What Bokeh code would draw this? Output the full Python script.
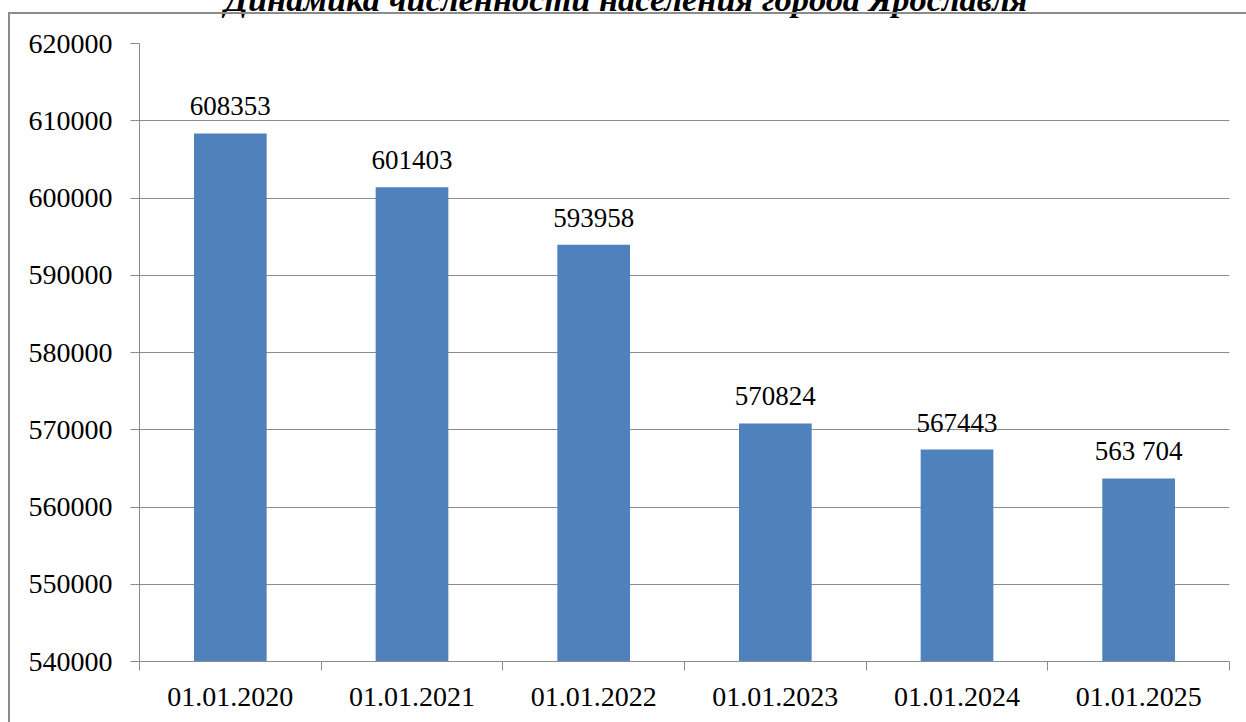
from bokeh.plotting import figure
from bokeh.models import (Range1d, FixedTicker, ColumnDataSource, LabelSet,
                          BasicTickFormatter, InlineStyleSheet)
from bokeh.embed import file_html
from bokeh.resources import INLINE
import numpy as np

# ---- data ----
dates = ["01.01.2020", "01.01.2021", "01.01.2022", "01.01.2023", "01.01.2024", "01.01.2025"]
population = [608353, 601403, 593958, 570824, 567443, 563704]
value_labels = ["608353", "601403", "593958", "570824", "567443", "563 704"]
y_ticks = [540000, 550000, 560000, 570000, 580000, 590000, 600000, 610000, 620000]
title_text = "Динамика численности населения города Ярославля"

FONT = "Liberation Serif, Times New Roman, serif"
BAR = "#4F81BD"
GRID = "#8c8c8c"

SHIFT = 50  # canvas is lifted above the window top so the title is cropped like in the source

n = len(dates)
xpos = np.arange(n) + 0.5

p = figure(width=1246, height=722 + SHIFT, output_backend="svg", toolbar_location=None,
           x_range=Range1d(0, n), y_range=Range1d(y_ticks[0], y_ticks[-1]),
           min_border_left=139, min_border_right=17, min_border_top=43 + SHIFT,
           min_border_bottom=61, margin=(-SHIFT, 0, 0, 0))
p.outline_line_color = None
p.background_fill_color = "white"
p.border_fill_color = "white"

# outer chart border (cropped at right and bottom)
p.stylesheets = [InlineStyleSheet(css="""
:host { position: relative; }
:host::after {
  content: ""; position: absolute; left: 8px; top: %dpx; right: -20px; bottom: -20px;
  border: 2px solid #8c8c8c; pointer-events: none; z-index: 10;
}
""" % (12 + SHIFT))]

# title
p.title.text = title_text
p.title.align = "left"
p.title.offset = 85
p.title.standoff = 51
p.title.vertical_align = "bottom"
p.title.text_font = FONT
p.title.text_font_size = "34.4px"
p.title.text_font_style = "bold italic"
p.title.text_color = "black"

src = ColumnDataSource(dict(x=xpos, top=population, lab=value_labels))
p.vbar(x="x", top="top", bottom=y_ticks[0], width=0.4, source=src,
       fill_color=BAR, line_color=None)

labels = LabelSet(x="x", y="top", text="lab", source=src, y_offset=18,
                  text_align="center", text_baseline="alphabetic",
                  text_font=FONT, text_font_size="27px", text_color="black")
p.add_layout(labels)

# y axis
p.yaxis.ticker = FixedTicker(ticks=y_ticks, minor_ticks=[])
p.yaxis.formatter = BasicTickFormatter(use_scientific=False)
p.yaxis.major_tick_out = 9
p.yaxis.major_tick_in = 0
p.yaxis.minor_tick_out = 0
p.yaxis.minor_tick_in = 0
p.yaxis.major_label_standoff = 18
p.yaxis.axis_line_color = GRID
p.yaxis.major_tick_line_color = GRID
p.yaxis.major_label_text_font = FONT
p.yaxis.major_label_text_font_size = "28px"
p.yaxis.major_label_text_color = "black"

# x axis: labels at centers, tick marks at boundaries
p.xaxis.ticker = FixedTicker(ticks=list(xpos), minor_ticks=list(range(n + 1)))
p.xaxis.major_label_overrides = {float(x): d for x, d in zip(xpos, dates)}
p.xaxis.major_tick_out = 0
p.xaxis.major_tick_in = 0
p.xaxis.minor_tick_out = 9
p.xaxis.minor_tick_in = 0
p.xaxis.major_label_standoff = 17
p.xaxis.axis_line_color = GRID
p.xaxis.minor_tick_line_color = GRID
p.xaxis.major_label_text_font = FONT
p.xaxis.major_label_text_font_size = "28px"
p.xaxis.major_label_text_color = "black"

p.xgrid.grid_line_color = None
p.ygrid.ticker = FixedTicker(ticks=y_ticks)
p.ygrid.grid_line_color = GRID
p.ygrid.grid_line_width = 1

open("out.html", "w").write(file_html(p, INLINE))
